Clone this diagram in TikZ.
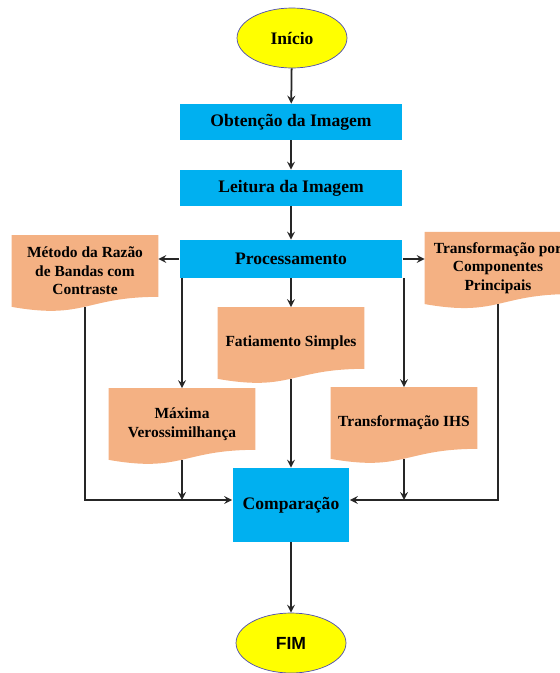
\documentclass[tikz,border=0pt]{standalone}
\usepackage{fontspec}
\setmainfont{Liberation Serif}
\newfontfamily\arialfont{Liberation Sans}
\usetikzlibrary{shapes.geometric, calc, backgrounds}
\definecolor{procblue}{HTML}{00B0F0}
\definecolor{docorange}{HTML}{F4B183}
\definecolor{termyellow}{HTML}{FFFF00}

\begin{document}
\begin{tikzpicture}[x=0.02cm,y=-0.02cm,
  proc/.style={fill=procblue,minimum width=4.46cm,minimum height=0.72cm,inner sep=0pt,font=\bfseries\fontsize{10}{12}\selectfont},
  term/.style={ellipse,draw=gray!60!blue,fill=termyellow,minimum width=2.2cm,minimum height=1.2cm,inner sep=0pt,font=\bfseries\fontsize{10}{12}\selectfont},
  docbox/.style={minimum width=2.92cm,minimum height=1.02cm,inner sep=0pt,align=center,font=\bfseries\fontsize{8.8}{10.6}\selectfont},
  conn/.style={->,>=stealth,line width=1pt,black!85}]
  \useasboundingbox (0,0) rectangle (559,673);
  \clip (0,0) rectangle (559,673);
  \node[term] (ini) at (292,38) {Início};
  \node[proc] (obt) at (291,122) {Obtenção da Imagem};
  \node[proc] (lei) at (291,188) {Leitura da Imagem};
  \node[proc,minimum height=0.76cm] (pro) at (291,259) {Processamento};
  \node[docbox] (met) at (85,271) {Método da Razão\\de Bandas com\\Contraste};
  \node[docbox] (pca) at (498,268) {Transformação por\\Componentes\\Principais};
  \node[docbox] (fat) at (291,343) {Fatiamento Simples};
  \node[docbox] (max) at (182,424) {Máxima\\Verossimilhança};
  \node[docbox] (ihs) at (404,423) {Transformação IHS};
  \node[proc,minimum width=2.34cm,minimum height=1.48cm] (cmp) at (291,505) {Comparação};
  \node[term,font=\arialfont\bfseries\fontsize{10}{12}\selectfont] (fim) at (291,643) {FIM};
  % wavy document shapes
  \begin{scope}[on background layer]
    \foreach \n in {met,pca,fat,max,ihs} {
      \fill[docorange] ($(\n.north west)+(0,-10)$) -- ($(\n.north east)+(0,-10)$) -- (\n.south east)
        .. controls (\n.south) and ($(\n.south)+(0,23)$) .. ($(\n.south west)+(0,10)$) -- cycle;
      \coordinate (\n-b) at ($(\n.south)+(0,10)$);
      \coordinate (\n-t) at ($(\n.north)+(0,-10)$);
    }
  \end{scope}
  \draw[conn] (ini) -- (obt);
  \draw[conn] (obt) -- (lei);
  \draw[conn] (lei) -- (pro);
  \draw[conn] (pro.west) -- (pro.west -| met.east);
  \draw[conn] (pro.east) -- (pro.east -| pca.west);
  \draw[conn] (pro) -- (fat-t);
  \draw[conn] (max-t |- pro.south) -- (max-t);
  \draw[conn] (ihs-t |- pro.south) -- (ihs-t);
  \coordinate (cl) at ($(cmp.west)+(0,-5)$);
  \coordinate (cr) at ($(cmp.east)+(0,-5)$);
  \draw[conn] (met-b) |- (cl);
  \draw[conn] (max-b) -- (max-b |- cl);
  \draw[conn] (fat-b) -- (cmp);
  \draw[conn] (ihs-b) -- (ihs-b |- cl);
  \draw[conn] (pca-b) |- (cr);
  \draw[conn] (cmp) -- (fim);
\end{tikzpicture}
\end{document}
